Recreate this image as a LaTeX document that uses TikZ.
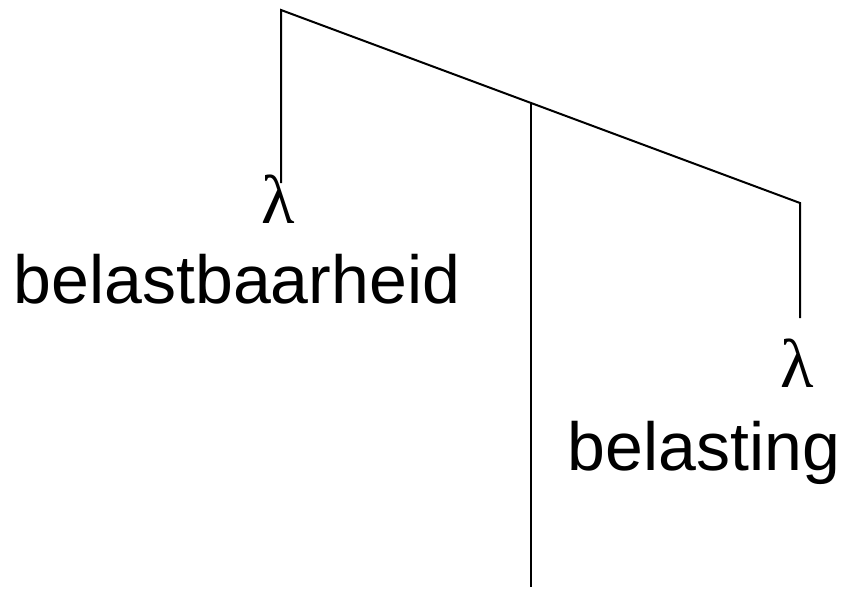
\documentclass[tikz,border=0pt]{standalone}
\usepackage{fontspec}
\setmainfont{Liberation Sans}
\newfontfamily\lamfont{Liberation Serif}
\usepackage{tikz}

\begin{document}
\begin{tikzpicture}[x=1pt,y=-1pt,line width=2pt,
  leaf/.style={anchor=base,inner sep=0pt,font=\fontsize{68}{80}\selectfont},
  lam/.style={anchor=base,inner sep=0pt,font=\fontsize{69}{80}\lamfont}]
\useasboundingbox (0,0) rectangle (844,611);
\coordinate (root) at (281,10);
\coordinate (rtop) at (800,203);
\coordinate (mtop) at (531,104);
\coordinate (lend) at (281,183);
\coordinate (rend) at (800,318);
\coordinate (mend) at (531,587);
\draw (lend) -- (root) -- (rtop) -- (rend);
\draw (mtop) -- (mend);
\node[lam] (lamA) at (278,223) {λ};
\node[leaf] (wordA) at (237,303) {belastbaarheid};
\node[lam] (lamB) at (797,387) {λ};
\node[leaf] (wordB) at (704,470) {belasting};
\end{tikzpicture}
\end{document}
